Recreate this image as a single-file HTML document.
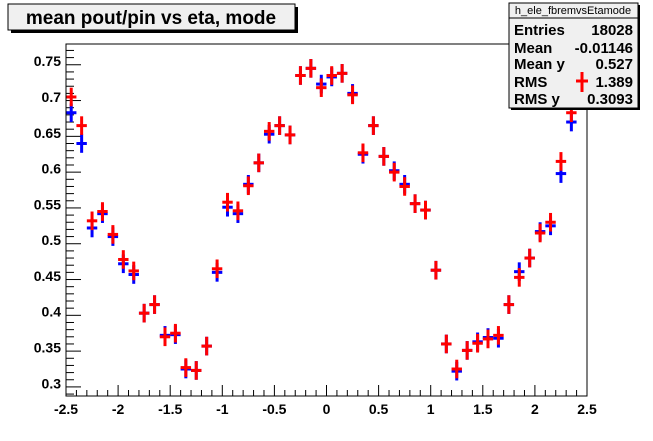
<!DOCTYPE html>
<html><head><meta charset="utf-8"><style>
body{margin:0;background:#fff}
svg{display:block;font-family:"Liberation Sans",Arial,sans-serif}
</style></head><body>
<svg id="chart" width="653" height="441">
<rect x="0" y="0" width="653" height="441" fill="#fff"/>
<g id="ticks"></g>
<g id="marks"></g>
<rect x="66" y="44" width="521" height="352" fill="none" stroke="#000" stroke-width="1"/>
<g>
<rect x="11" y="7" width="287" height="26" fill="#000"/>
<rect x="8" y="4" width="287" height="26" fill="#f0f0f0" stroke="#000"/>
<text x="151" y="24" text-anchor="middle" font-size="19" font-weight="bold">mean pout/pin vs eta, mode</text>
</g>
<g>
<rect x="511" y="5" width="129" height="105" fill="#000"/>
<rect x="509" y="3" width="129" height="105" fill="#f0f0f0" stroke="#000"/>
<line x1="509" y1="18" x2="638" y2="18" stroke="#000"/>
<text x="573" y="14" text-anchor="middle" font-size="11">h_ele_fbremvsEtamode</text>
<g font-size="15" font-weight="bold">
<text x="514" y="35">Entries</text><text x="633" y="35" text-anchor="end">18028</text>
<text x="514" y="53">Mean</text><text x="633" y="53" text-anchor="end">-0.01146</text>
<text x="514" y="69">Mean y</text><text x="633" y="69" text-anchor="end">0.527</text>
<text x="514" y="87">RMS</text><text x="633" y="87" text-anchor="end">1.389</text>
<text x="514" y="104">RMS y</text><text x="633" y="104" text-anchor="end">0.3093</text>
</g>
<line x1="582" y1="72" x2="582" y2="92" stroke="#f00" stroke-width="3"/>
<line x1="576" y1="81" x2="588" y2="81" stroke="#f00" stroke-width="3"/>
</g>
</svg>
<script>
const xLo=-2.5,xHi=2.5,yLo=0.2823,yHi=0.774;
const px0=66,px1=587,py0=396,py1=44;
const binCenters=[-2.45,-2.35,-2.25,-2.15,-2.05,-1.95,-1.85,-1.75,-1.65,-1.55,-1.45,-1.35,-1.25,-1.15,-1.05,-0.95,-0.85,-0.75,-0.65,-0.55,-0.45,-0.35,-0.25,-0.15,-0.05,0.05,0.15,0.25,0.35,0.45,0.55,0.65,0.75,0.85,0.95,1.05,1.15,1.25,1.35,1.45,1.55,1.65,1.75,1.85,1.95,2.05,2.15,2.25,2.35,2.45];
const blueValues=[0.678,0.635,0.517,0.537,0.505,0.467,0.452,0.398,0.41,0.367,0.368,0.32,0.318,0.352,0.455,0.546,0.537,0.578,0.608,0.648,0.66,0.647,0.73,0.74,0.718,0.728,0.733,0.705,0.62,0.66,0.617,0.597,0.578,0.551,0.542,0.458,0.355,0.317,0.346,0.358,0.364,0.363,0.41,0.456,0.475,0.512,0.52,0.593,0.665,0.72];
const redValues=[0.70,0.66,0.527,0.54,0.508,0.473,0.457,0.398,0.41,0.365,0.37,0.322,0.318,0.352,0.46,0.553,0.541,0.576,0.608,0.652,0.66,0.647,0.73,0.74,0.713,0.73,0.733,0.703,0.622,0.66,0.617,0.595,0.575,0.551,0.542,0.458,0.355,0.32,0.346,0.356,0.362,0.367,0.41,0.448,0.475,0.51,0.525,0.61,0.678,0.735];
const errHalf=0.013,binWidth=0.1;
const xTickLabels=["-2.5","-2","-1.5","-1","-0.5","0","0.5","1","1.5","2","2.5"];
const yTickLabels=["0.3","0.35","0.4","0.45","0.5","0.55","0.6","0.65","0.7","0.75"];
const X=v=>px0+(v-xLo)/(xHi-xLo)*(px1-px0);
const Y=v=>py0-(v-yLo)/(yHi-yLo)*(py0-py1);
const NS="http://www.w3.org/2000/svg";
function mk(tag,attrs,parent){const e=document.createElementNS(NS,tag);for(const k in attrs)e.setAttribute(k,attrs[k]);parent.appendChild(e);return e;}
const ticks=document.getElementById('ticks');
for(let i=0;i<=50;i++){const v=xLo+i*0.1;const major=i%5===0;
 const l=mk('line',{x1:X(v),x2:X(v),y1:py0,y2:py0-(major?11:6),stroke:'#000'},ticks);
 
 }
xTickLabels.forEach(s=>{const t=mk('text',{x:X(parseFloat(s)),y:414,'text-anchor':'middle','font-size':14,'font-weight':'bold'},ticks);t.textContent=s;
 
 });
for(let v=0.285;v<=0.7701;v+=0.01){const major=Math.abs(Math.round(v*100)%5)===0;
 const l=mk('line',{x1:px0,x2:px0+(major?15:8),y1:Y(v),y2:Y(v),stroke:'#000'},ticks);
 
 }
yTickLabels.forEach(s=>{const t=mk('text',{x:61,y:Y(parseFloat(s))+5,'text-anchor':'end','font-size':14,'font-weight':'bold'},ticks);t.textContent=s;
 
 });
const marks=document.getElementById('marks');
function series(vals,color,name){vals.forEach((v,i)=>{const c=binCenters[i];const g=mk('g',{},marks);
 
 
 mk('line',{x1:X(c),x2:X(c),y1:Y(v-errHalf),y2:Y(v+errHalf),stroke:color,'stroke-width':3},g);
 mk('line',{x1:X(c-binWidth/2),x2:X(c+binWidth/2),y1:Y(v),y2:Y(v),stroke:color,'stroke-width':3},g);});}
series(blueValues,'#00f','blue-point');
series(redValues,'#f00','red-point');
</script>
</body></html>
